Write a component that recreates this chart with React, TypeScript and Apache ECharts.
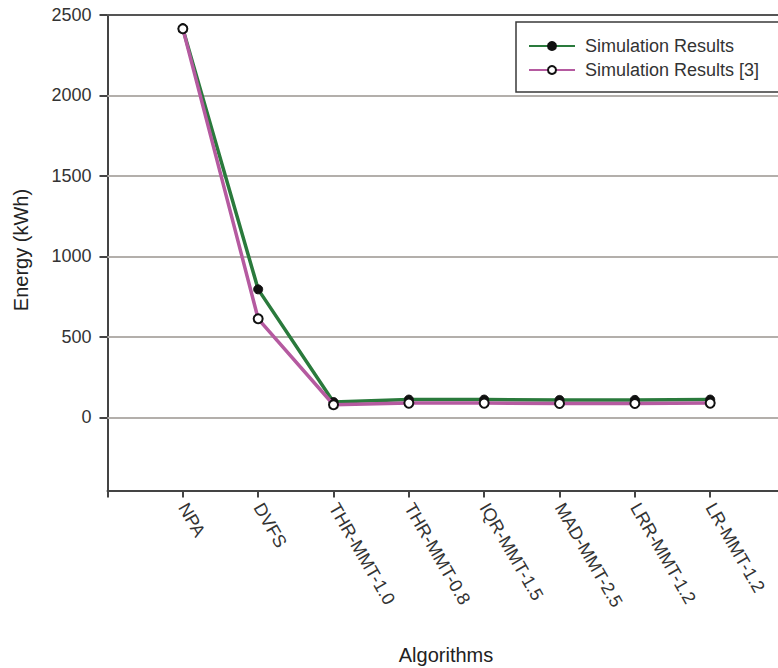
import React, { useEffect, useRef } from "react";
import * as echarts from "echarts";

const categories = [
  "NPA",
  "DVFS",
  "THR-MMT-1.0",
  "THR-MMT-0.8",
  "IQR-MMT-1.5",
  "MAD-MMT-2.5",
  "LRR-MMT-1.2",
  "LR-MMT-1.2",
];
const simResults = [2415, 795, 95, 110, 110, 108, 108, 110];
const simResultsRef = [2415, 612, 78, 88, 88, 86, 86, 88];
const yTicks = [0, 500, 1000, 1500, 2000, 2500];

const FONT = "Liberation Sans, Arial, sans-serif";

export default function App() {
  const ref = useRef<HTMLDivElement>(null);
  useEffect(() => {
    if (!ref.current) return;
    const chart = echarts.init(ref.current, null, { renderer: "svg" });
    const option = {
      animation: false,
      backgroundColor: "#ffffff",
      textStyle: { fontFamily: FONT },
      grid: { left: 107.5, top: 15, right: 0, bottom: 177.5 },
      legend: {
        orient: "vertical",
        left: 516,
        top: 22,
        padding: [15, 24, 13, 12],
        borderColor: "#3a3a3a",
        borderWidth: 1.5,
        backgroundColor: "#ffffff",
        itemWidth: 46,
        itemHeight: 10,
        itemGap: 6,
        textStyle: {
          fontFamily: FONT,
          fontSize: 18,
          color: "#333",
          lineHeight: 18,
          padding: [0, 0, 0, 5],
        },
        data: ["Simulation Results", "Simulation Results [3]"],
      },
      xAxis: {
        type: "value",
        min: 0,
        max: 8.9,
        interval: 1,
        axisLine: { show: true, onZero: false, lineStyle: { color: "#444", width: 2 } },
        axisTick: { show: true, length: 7, lineStyle: { color: "#444", width: 2 } },
        splitLine: { show: false },
        axisLabel: {
          rotate: -60,
          margin: 14,
          fontSize: 18,
          color: "#333",
          fontFamily: FONT,
          showMinLabel: true,
          showMaxLabel: false,
          formatter: (v: number) => categories[v - 1] ?? "",
        },
      },
      yAxis: {
        type: "value",
        min: -455,
        max: 2500,
        axisLine: { show: true, onZero: false, lineStyle: { color: "#444", width: 2 } },
        axisTick: {
          show: true,
          length: 8,
          customValues: yTicks,
          lineStyle: { color: "#444", width: 2 },
        },
        splitLine: { show: false },
        axisLabel: {
          customValues: yTicks,
          margin: 16,
          fontSize: 18,
          color: "#333",
          fontFamily: FONT,
          formatter: (v: number) => String(v),
        },
      },
      graphic: [
        {
          type: "text",
          x: 21,
          y: 250,
          rotation: Math.PI / 2,
          style: {
            text: "Energy (kWh)",
            fontSize: 20,
            fontFamily: FONT,
            fill: "#222",
            textAlign: "center",
            textVerticalAlign: "middle",
          },
        },
        {
          type: "text",
          x: 446,
          y: 655,
          style: {
            text: "Algorithms",
            fontSize: 20,
            fontFamily: FONT,
            fill: "#222",
            textAlign: "center",
            textVerticalAlign: "middle",
          },
        },
      ],
      series: [
        {
          name: "Simulation Results",
          type: "line",
          z: 3,
          data: categories.map((c, i) => [i + 1, simResults[i]]),
          symbol: "circle",
          symbolSize: 9,
          lineStyle: { color: "#2a7a3c", width: 3.5 },
          itemStyle: { color: "#111", borderColor: "#111", borderWidth: 1 },
          markLine: {
            z: 1,
            silent: true,
            symbol: "none",
            label: { show: false },
            data: yTicks.map((v) => ({
              yAxis: v,
              lineStyle: {
                color: v === 2500 ? "#555" : "#b3afab",
                width: 2,
                type: "solid",
              },
            })),
          },
        },
        {
          name: "Simulation Results [3]",
          type: "line",
          z: 4,
          data: categories.map((c, i) => [i + 1, simResultsRef[i]]),
          symbol: "circle",
          symbolSize: 9,
          lineStyle: { color: "#b55aa0", width: 3.5 },
          itemStyle: { color: "#ffffff", borderColor: "#111", borderWidth: 2 },
        },
      ],
    };
    chart.setOption(option as any);
    return () => chart.dispose();
  }, []);
  return (
    <div
      ref={ref}
      style={{ position: "absolute", left: 0, top: 0, width: 778, height: 668 }}
    />
  );
}
